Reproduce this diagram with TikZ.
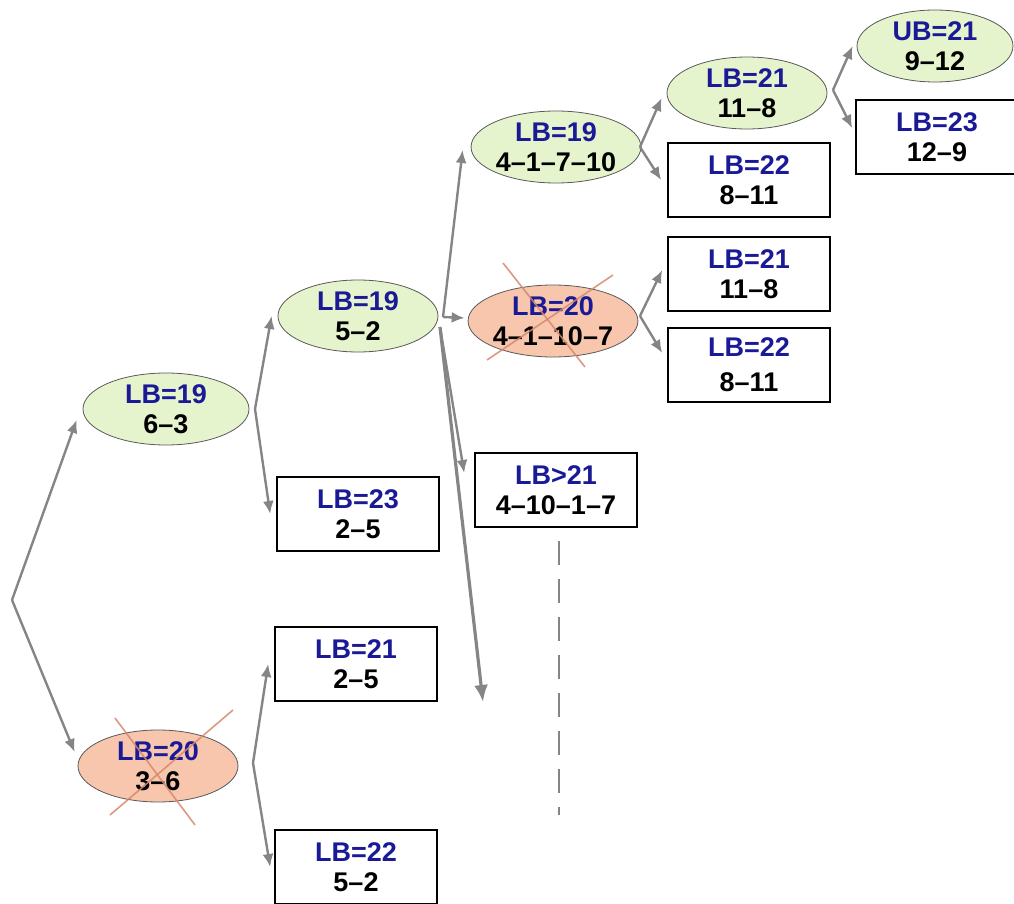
\documentclass[tikz,border=0pt]{standalone}
\usepackage{fontspec}
\setmainfont{Liberation Sans}
\usepackage{tikz}
\usetikzlibrary{shapes.geometric}
\usetikzlibrary{arrows.meta}
\definecolor{lbblue}{HTML}{1A1A96}
\definecolor{okgreen}{HTML}{E6F4CE}
\definecolor{cutred}{HTML}{F7C6AD}
\definecolor{edgegray}{HTML}{858585}
\definecolor{crossred}{HTML}{D4876A}
\newcommand{\bnd}[2]{{\color{lbblue}#1}\\#2}
\tikzset{
    bound/.style={font=\fontsize{13.5}{14.8}\selectfont\bfseries, align=center, inner sep=0pt},
    live/.style={bound, ellipse, draw=gray!70!black, line width=0.4pt, fill=okgreen,
        minimum width=80pt, minimum height=36pt},
    pruned/.style={live, fill=cutred},
    leaf/.style={bound, rectangle, draw=black, line width=0.8pt, fill=white,
        minimum width=81pt, minimum height=37pt},
    branch/.style={draw=edgegray, line width=1.2pt, -{Latex[length=6.5pt,width=5.5pt]}},
    longbranch/.style={draw=edgegray, line width=1.6pt, -{Latex[length=8.5pt,width=7pt]}},
    cross/.style={draw=crossred, line width=0.8pt, opacity=0.85},
    dashline/.style={draw=edgegray, line width=0.7pt, dash pattern=on 12pt off 7pt}
}

\begin{document}
\begin{tikzpicture}[x=0.5pt, y=-0.5pt]
\useasboundingbox (0,0) rectangle (1014,904);
% level 1
\coordinate (root) at (12,600);
\node[live, minimum width=83pt] (n63) at (166,409) {\bnd{LB=19}{6--3}};
\node[pruned] (n36) at (158,766) {\bnd{LB=20}{3--6}};
% level 2
\node[live] (n52) at (358,316) {\bnd{LB=19}{5--2}};
\node[leaf] (n25a) at (358,514) {\bnd{LB=23}{2--5}};
\node[leaf] (n25b) at (356,664) {\bnd{LB=21}{2--5}};
\node[leaf] (n52b) at (356,867) {\bnd{LB=22}{5--2}};
% level 3
\node[live] (n41710) at (556,147) {\bnd{LB=19}{4--1--7--10}};
\node[pruned] (n41107) at (553,321) {\bnd{LB=20}{4--1--10--7}};
\node[leaf] (n41017) at (556,490) {\bnd{LB>21}{4--10--1--7}};
\coordinate (deep) at (483,702);
\coordinate (more) at (559,815);
% level 4
\node[live] (n118) at (747,93) {\bnd{LB=21}{11--8}};
\node[leaf] (n811) at (749,180) {\bnd{LB=22}{8--11}};
\node[leaf] (n118b) at (749,274) {\bnd{LB=21}{11--8}};
\node[leaf] (n811b) at (749,365) {{\color{lbblue}LB=22}\\[2.5pt]8--11};
% level 5
\node[live, minimum width=78pt] (n912) at (935,46) {\bnd{UB=21}{9--12}};
\node[leaf] (n129) at (937,137) {\bnd{LB=23}{12--9}};

% split points
\coordinate (s1) at (255,409);
\coordinate (s2) at (253,763);
\coordinate (s3) at (443,317);
\coordinate (s3b) at (440,327);
\coordinate (s4) at (640,316);
\coordinate (s5) at (640,147);
\coordinate (s6) at (833,90);

\draw[style={branch}]
  (root) -- ([shift={(-6,11)}]n63.west);
\draw[style={branch}]
  (root) -- ([shift={(-3,-14)}]n36.west);
\draw[style={branch}]
  (s1) -- ([shift={(-6,0)}]n52.west);
\draw[style={branch}]
  (s1) -- ([shift={(-6,0)}]n25a.west);
\draw[style={branch}]
  (s2) -- ([shift={(-6,0)}]n25b.west);
\draw[style={branch}]
  (s2) -- ([shift={(-4,0)}]n52b.west);
\draw[style={branch}]
  (s3) -- ([shift={(-8,3)}]n41710.west);
\draw[style={branch}]
  (s3) -- ([shift={(-3,-3)}]n41107.west);
\draw[style={branch}]
  (s3b) -- ([shift={(-10,-17)}]n41017.west);
\draw[style={longbranch}]
  (s3b) -- (deep);
\draw[style={branch}]
  (s5) -- ([shift={(-5,5)}]n118.west);
\draw[style={branch}]
  (s5) -- ([shift={(-6,0)}]n811.west);
\draw[style={branch}]
  (s4) -- ([shift={(-5,-4)}]n118b.west);
\draw[style={branch}]
  (s4) -- ([shift={(-5,-12)}]n811b.west);
\draw[style={branch}]
  (s6) -- ([shift={(-4,0)}]n912.west);
\draw[style={branch}]
  (s6) -- ([shift={(-3,-9)}]n129.west);
\draw[style={dashline}]
  ([shift={(3,13)}]n41017.south) -- (more);

% pruned nodes
\draw[style={cross}]
  ([shift={(-48,49)}]n36.center) -- ([shift={(75,-56)}]n36.center);
\draw[style={cross}]
  ([shift={(-43,-48)}]n36.center) -- ([shift={(37,59)}]n36.center);
\draw[style={cross}]
  ([shift={(-66,39)}]n41107.center) -- ([shift={(60,-46)}]n41107.center);
\draw[style={cross}]
  ([shift={(-50,-58)}]n41107.center) -- ([shift={(32,46)}]n41107.center);
\end{tikzpicture}
\end{document}
